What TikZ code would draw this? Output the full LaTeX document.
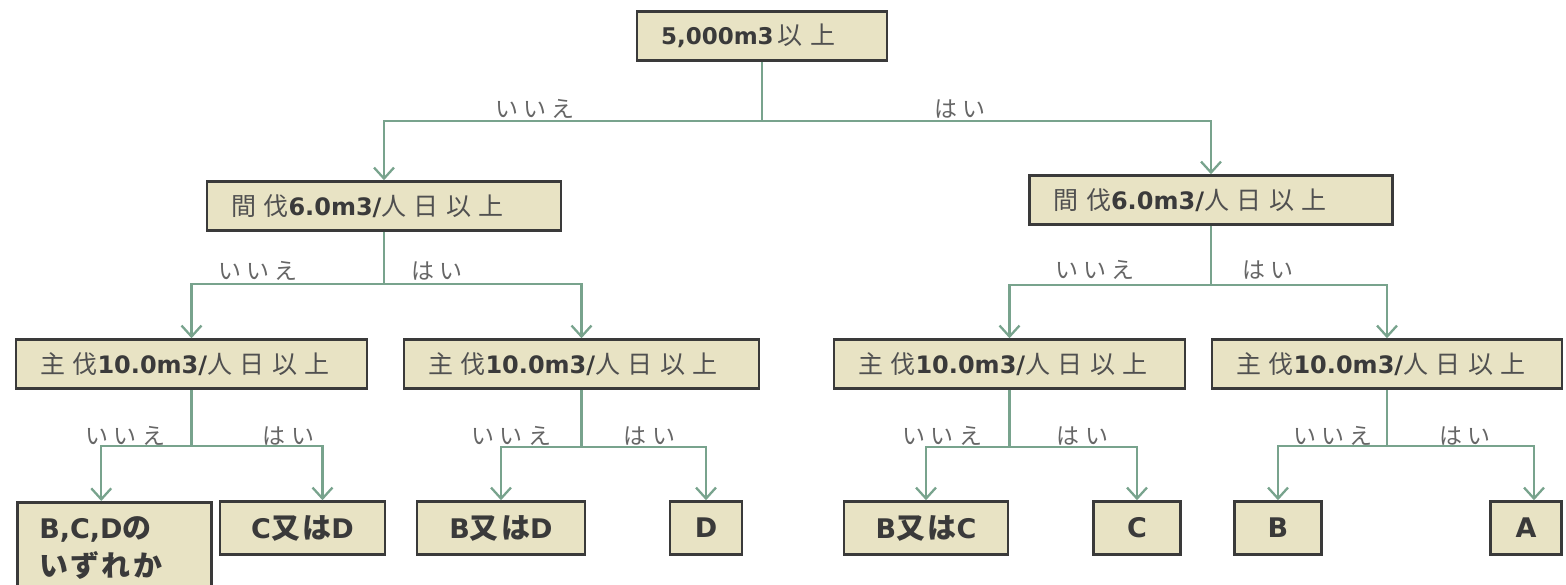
\documentclass[tikz,border=0pt]{standalone}
\usepackage{fontspec}
\setmainfont{DejaVu Sans}
\newfontfamily\jpfont[LetterSpace=22]{Noto Sans CJK JP}
\newfontfamily\jpwide[LetterSpace=30]{Noto Sans CJK JP}
\newfontfamily\jpleaf[LetterSpace=8]{Noto Sans CJK JP}
\usetikzlibrary{arrows.meta}

\definecolor{boxfill}{HTML}{E8E3C4}
\definecolor{boxline}{HTML}{3A3A3A}
\definecolor{linkgreen}{HTML}{78A38D}
\definecolor{jpgray}{HTML}{505050}
\definecolor{lblgray}{HTML}{666666}

\newcommand{\jt}[1]{{\mdseries\jpwide\fontsize{25}{26}\selectfont\color{jpgray}#1}}
\newcommand{\jl}[1]{{\jpleaf\bfseries\fontsize{29}{38}\selectfont#1}}

\tikzset{
  dec/.style={draw=boxline, fill=boxfill, line width=2.5pt, text=boxline,
    font=\bfseries\fontsize{24}{26}\selectfont, minimum height=49pt,
    inner xsep=24pt, inner ysep=0pt, align=left, text width=#1},
  leaf/.style={draw=boxline, fill=boxfill, line width=2.5pt, text=boxline,
    font=\bfseries\fontsize{27}{38}\selectfont, minimum height=53pt,
    inner sep=0pt, minimum width=#1},
  link/.style={draw=linkgreen, line width=2.3pt},
  arr/.style={link, -{Straight Barb[length=11pt,width=20pt,line width=2.3pt]}},
  lbl/.style={font=\jpfont\fontsize{23}{24}\selectfont, text=lblgray, inner sep=0pt}
}

\begin{document}
\begin{tikzpicture}[x=1pt,y=-1pt]
  \useasboundingbox (0,0) rectangle (1566,584);

  % decisions
  \node[dec=202pt, font=\bfseries\fontsize{23}{26}\selectfont] (T) at (762,36)
        {5,000m3\,\jt{以上}};
  \node[dec=306pt] (A)  at (384,206)   {\jt{間伐}6.0m3/\jt{人日以上}};
  \node[dec=315pt] (B)  at (1211,200)  {\jt{間伐}6.0m3/\jt{人日以上}};
  \node[dec=303pt] (C1) at (191.5,364) {\jt{主伐}10.0m3/\jt{人日以上}};
  \node[dec=307pt] (C2) at (581.5,364) {\jt{主伐}10.0m3/\jt{人日以上}};
  \node[dec=303pt] (C3) at (1009.5,364) {\jt{主伐}10.0m3/\jt{人日以上}};
  \node[dec=302pt] (C4) at (1387,364)  {\jt{主伐}10.0m3/\jt{人日以上}};

  % results
  \node[leaf=194pt, minimum height=92pt, align=left, anchor=north west,
        inner xsep=22pt, inner ysep=4pt, text width=150pt] (l1) at (16,501)
        {B,C,D\jl{の}\\\jl{いずれか}};
  \node[leaf=165pt] (l2) at (302.5,528) {C\jl{又は}D};
  \node[leaf=168pt] (l3) at (501,528)   {B\jl{又は}D};
  \node[leaf=72pt]  (l4) at (706,528)   {D};
  \node[leaf=164pt] (l5) at (926,528)   {B\jl{又は}C};
  \node[leaf=87pt]  (l6) at (1137,528)  {C};
  \node[leaf=87pt]  (l7) at (1278,528)  {B};
  \node[leaf=71pt]  (l8) at (1526,528)  {A};

  % stems
  \draw[link] (T.south)  -- ++(0,59) coordinate (Tj);
  \draw[link] (A.south)  -- ++(0,52) coordinate (Aj);
  \draw[link] (B.south)  -- ++(0,59) coordinate (Bj);
  \draw[link] (C1.south) -- ++(0,56) coordinate (C1j);
  \draw[link] (C2.south) -- ++(0,57) coordinate (C2j);
  \draw[link] (C3.south) -- ++(0,57) coordinate (C3j);
  \draw[link] (C4.south) -- ++(0,56) coordinate (C4j);

  % branches
  \draw[arr] (Tj)  -| (A.north);
  \draw[arr] (Tj)  -| (B.north);
  \draw[arr] (Aj)  -| (C1.north);
  \draw[arr] (Aj)  -| (C2.north);
  \draw[arr] (Bj)  -| (C3.north);
  \draw[arr] (Bj)  -| (C4.north);
  \draw[arr] (C1j) -| ([xshift=-13pt]l1.north);
  \draw[arr] (C1j) -| ([xshift=20pt]l2.north);
  \draw[arr] (C2j) -| (l3.north);
  \draw[arr] (C2j) -| (l4.north);
  \draw[arr] (C3j) -| (l5.north);
  \draw[arr] (C3j) -| (l6.north);
  \draw[arr] (C4j) -| (l7.north);
  \draw[arr] (C4j) -| ([xshift=8pt]l8.north);

  % yes / no labels
  \node[lbl] (Tn)  at ([xshift=-227pt,yshift=12pt]Tj)  {いいえ};
  \node[lbl] (Ty)  at ([xshift=198pt,yshift=12pt]Tj)   {はい};
  \node[lbl] (An)  at ([xshift=-126pt,yshift=13pt]Aj)  {いいえ};
  \node[lbl] (Ay)  at ([xshift=53pt,yshift=13pt]Aj)    {はい};
  \node[lbl] (Bn)  at ([xshift=-116pt,yshift=15pt]Bj)  {いいえ};
  \node[lbl] (By)  at ([xshift=57pt,yshift=15pt]Bj)    {はい};
  \node[lbl] (C1n) at ([xshift=-66pt,yshift=10pt]C1j)  {いいえ};
  \node[lbl] (C1y) at ([xshift=97pt,yshift=10pt]C1j)   {はい};
  \node[lbl] (C2n) at ([xshift=-70pt,yshift=11pt]C2j)  {いいえ};
  \node[lbl] (C2y) at ([xshift=68pt,yshift=11pt]C2j)   {はい};
  \node[lbl] (C3n) at ([xshift=-67pt,yshift=11pt]C3j)  {いいえ};
  \node[lbl] (C3y) at ([xshift=73pt,yshift=11pt]C3j)   {はい};
  \node[lbl] (C4n) at ([xshift=-54pt,yshift=10pt]C4j)  {いいえ};
  \node[lbl] (C4y) at ([xshift=78pt,yshift=10pt]C4j)   {はい};
\end{tikzpicture}
\end{document}
